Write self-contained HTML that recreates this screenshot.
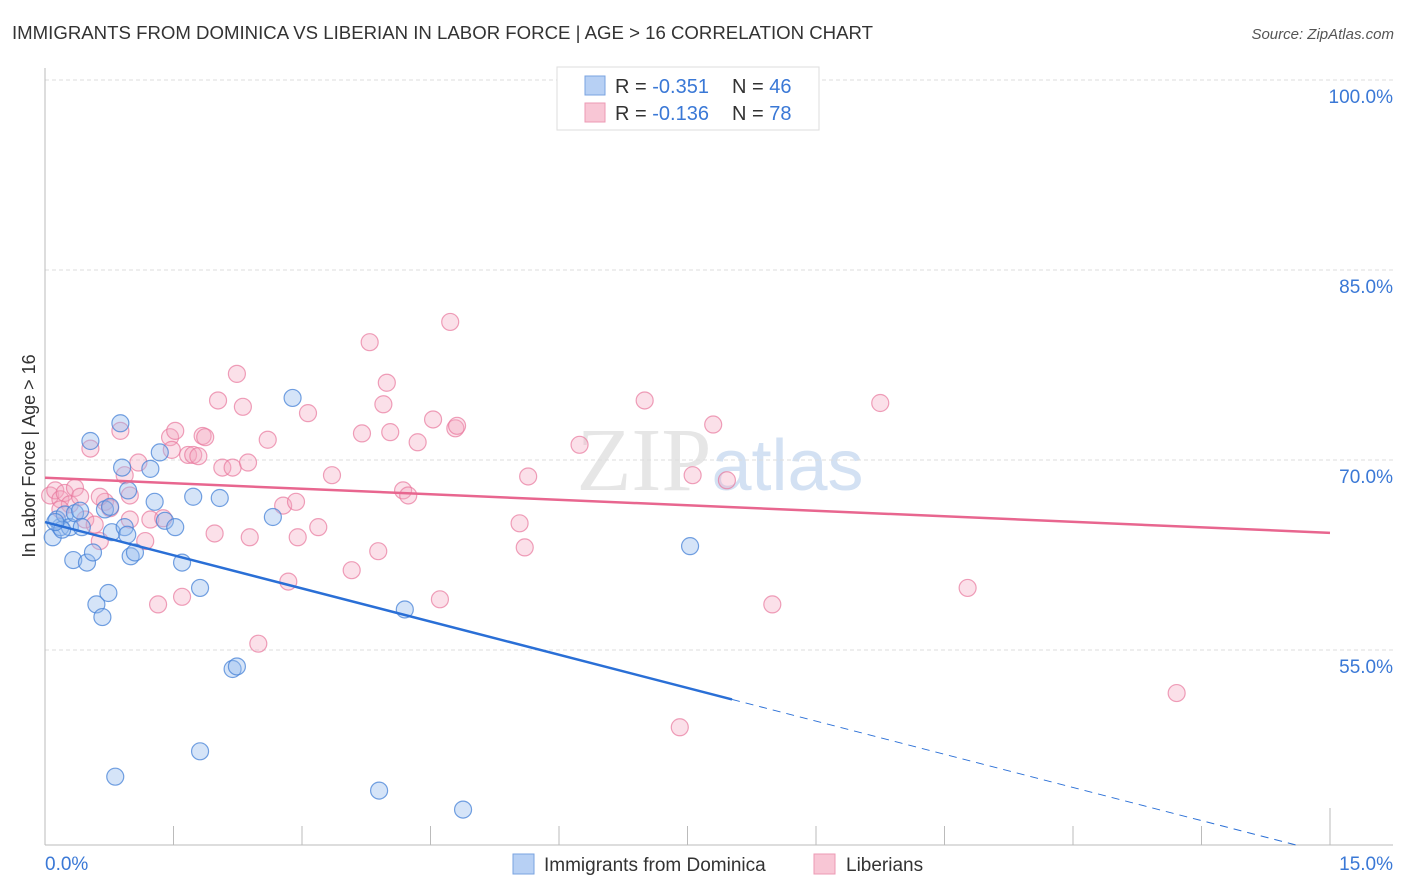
<!DOCTYPE html>
<html><head><meta charset="utf-8">
<style>
body{margin:0;background:#fff;font-family:"Liberation Sans",sans-serif;}
#wrap{position:relative;width:1406px;height:892px;overflow:hidden;}
</style></head>
<body>
<div id="wrap">
<svg id="svg" width="1406" height="892" xmlns="http://www.w3.org/2000/svg">
<text x="12" y="39" font-size="18" fill="#333" textLength="861" lengthAdjust="spacingAndGlyphs">IMMIGRANTS FROM DOMINICA VS LIBERIAN IN LABOR FORCE | AGE &gt; 16 CORRELATION CHART</text>
<text x="1394" y="39" font-size="15" fill="#555" font-style="italic" text-anchor="end">Source: ZipAtlas.com</text>
<text x="720" y="490" font-size="90" fill="#e6e6e6" text-anchor="middle" font-family="Liberation Serif, serif">ZIP<tspan fill="#d3e1f3" font-family="Liberation Sans, sans-serif" font-size="72">atlas</tspan></text>
<g id="grid"></g>
<g id="axes"></g>
<g id="pts"></g>
<g id="lines"></g>
<text x="35" y="456" font-size="18" fill="#333" text-anchor="middle" transform="rotate(-90 35 456)">In Labor Force | Age &gt; 16</text>
<g>
<rect x="557" y="67" width="262" height="63" fill="#fff" stroke="#ddd"/>
<rect x="585" y="76" width="20" height="19" fill="#b7d0f4" stroke="#7aa3e0"/>
<rect x="585" y="103" width="20" height="19" fill="#f8c6d5" stroke="#ec9ab4"/>
<text x="615" y="93" font-size="20" fill="#333">R = <tspan fill="#3a78d6">-0.351</tspan></text>
<text x="732" y="93" font-size="20" fill="#333">N = <tspan fill="#3a78d6">46</tspan></text>
<text x="615" y="120" font-size="20" fill="#333">R = <tspan fill="#3a78d6">-0.136</tspan></text>
<text x="732" y="120" font-size="20" fill="#333">N = <tspan fill="#3a78d6">78</tspan></text>
</g>
<g>
<rect x="513" y="854" width="21" height="20" fill="#b7d0f4" stroke="#7aa3e0"/>
<text x="544" y="871" font-size="19" fill="#333">Immigrants from Dominica</text>
<rect x="814" y="854" width="21" height="20" fill="#f8c6d5" stroke="#ec9ab4"/>
<text x="846" y="871" font-size="19" fill="#333">Liberians</text>
</g>
</svg>
</div>
<script>
const blueX=[0.09,0.18,0.14,0.23,0.29,0.35,0.41,0.33,0.49,0.53,0.56,0.60,0.67,0.74,0.70,0.78,0.88,0.90,0.93,0.97,1.00,1.05,1.23,1.28,1.34,1.40,1.52,1.60,1.73,1.81,2.04,2.19,2.24,2.66,2.89,4.20,3.90,4.88,7.53,1.81,0.82,0.20,0.12,0.43,0.76,0.96];
const blueY=[63.9,64.7,65.3,65.7,64.7,65.8,66.0,62.1,61.9,71.5,62.7,58.6,57.6,59.5,66.1,64.3,72.9,69.4,64.7,67.6,62.4,62.7,69.3,66.7,70.6,65.2,64.7,61.9,67.1,59.9,67.0,53.5,53.7,65.5,74.9,58.2,43.9,42.4,63.2,47.0,45.0,64.5,65.1,64.7,66.3,64.1];
const pinkX=[0.06,0.12,0.18,0.23,0.29,0.35,0.41,0.47,0.53,0.58,0.64,0.70,0.76,0.88,0.93,0.99,1.09,1.17,1.23,1.32,1.38,1.46,1.48,1.52,1.60,1.67,1.73,1.79,1.84,1.87,1.98,2.02,2.07,2.19,2.24,2.31,2.37,2.39,2.49,2.60,2.78,2.84,2.93,2.95,3.07,3.19,3.35,3.58,3.70,3.79,3.89,3.95,3.99,4.03,4.18,4.24,4.35,4.53,4.61,4.73,4.79,4.81,5.54,5.60,5.64,6.24,7.00,7.41,7.56,7.80,7.96,8.49,9.75,10.77,13.21,0.18,0.64,0.99];
const pinkY=[67.2,67.6,66.9,67.4,66.5,67.8,67.1,65.3,70.9,64.9,63.6,66.7,66.2,72.3,68.8,67.2,69.8,63.6,65.3,58.6,65.4,71.8,70.8,72.3,59.2,70.4,70.4,70.3,71.9,71.8,64.2,74.7,69.4,69.4,76.8,74.2,69.8,63.9,55.5,71.6,66.4,60.4,66.7,63.9,73.7,64.7,68.8,61.3,72.1,79.3,62.8,74.4,76.1,72.2,67.6,67.2,71.4,73.2,59.0,80.9,72.5,72.7,65.0,63.1,68.7,71.2,74.7,48.9,68.8,72.8,68.4,58.6,74.5,59.9,51.6,66.1,67.1,65.3];
const blueTrend=[65.1,-1.746];
const pinkTrend=[68.6,-0.29];
const yTicks=[100,85,70,55];
const yTickLabels=["100.0%","85.0%","70.0%","55.0%"];
const xTicks=[0,1.5,3,4.5,6,7.5,9,10.5,12,13.5,15];
const NS="http://www.w3.org/2000/svg";
const X0=45,XW=1285,Y100=80,PXPCT=190/15;
function sx(v){return X0+v/15*XW;}
function sy(v){return Y100+(100-v)*PXPCT;}
function mk(tag,attrs,parent){const e=document.createElementNS(NS,tag);for(const k in attrs)e.setAttribute(k,attrs[k]);document.getElementById(parent).appendChild(e);return e;}
yTicks.forEach((t,i)=>{
 const l=mk('line',{x1:45,x2:1393,y1:sy(t),y2:sy(t),stroke:'#ddd','stroke-dasharray':'4,3'},'grid');
 
 
 const tx=mk('text',{x:1393,y:sy(t)+23,'font-size':19,fill:'#3a78d6','text-anchor':'end'},'grid');
 tx.textContent=yTickLabels[i];
 
 
});
mk('line',{x1:45,x2:45,y1:68,y2:845,stroke:'#bbb'},'axes');
mk('line',{x1:45,x2:1393,y1:845,y2:845,stroke:'#bbb'},'axes');
xTicks.forEach((t,i)=>{
 const l=mk('line',{x1:sx(t),x2:sx(t),y1:(i==xTicks.length-1?808:826),y2:845,stroke:'#bbb'},'axes');
 
 
});
let t1=mk('text',{x:45,y:870,'font-size':19,fill:'#3a78d6'},'axes');t1.textContent='0.0%';

let t2=mk('text',{x:1393,y:870,'font-size':19,fill:'#3a78d6','text-anchor':'end'},'axes');t2.textContent='15.0%';

pinkX.forEach((x,i)=>{
 const c=mk('circle',{cx:sx(x),cy:sy(pinkY[i]),r:8.5,fill:'rgba(244,167,192,0.35)',stroke:'rgba(232,120,156,0.7)','stroke-width':1.2},'pts');
 
 
});
blueX.forEach((x,i)=>{
 const c=mk('circle',{cx:sx(x),cy:sy(blueY[i]),r:8.5,fill:'rgba(150,188,238,0.4)',stroke:'rgba(70,130,215,0.75)','stroke-width':1.2},'pts');
 
 
});
const pl=mk('line',{x1:sx(0),y1:sy(pinkTrend[0]),x2:sx(15),y2:sy(pinkTrend[0]+15*pinkTrend[1]),stroke:'#e8668f','stroke-width':2.5},'lines');


const bEnd=8.02;
const bl=mk('line',{x1:sx(0),y1:sy(blueTrend[0]),x2:sx(bEnd),y2:sy(blueTrend[0]+bEnd*blueTrend[1]),stroke:'#2a6fd6','stroke-width':2.5},'lines');


const xEndVal=Math.min(15,(39.6-blueTrend[0])/blueTrend[1]);
const bd=mk('line',{x1:sx(bEnd),y1:sy(blueTrend[0]+bEnd*blueTrend[1]),x2:sx(xEndVal),y2:sy(blueTrend[0]+xEndVal*blueTrend[1]),stroke:'#2a6fd6','stroke-width':1,'stroke-dasharray':'8,6'},'lines');


</script>
</body></html>
